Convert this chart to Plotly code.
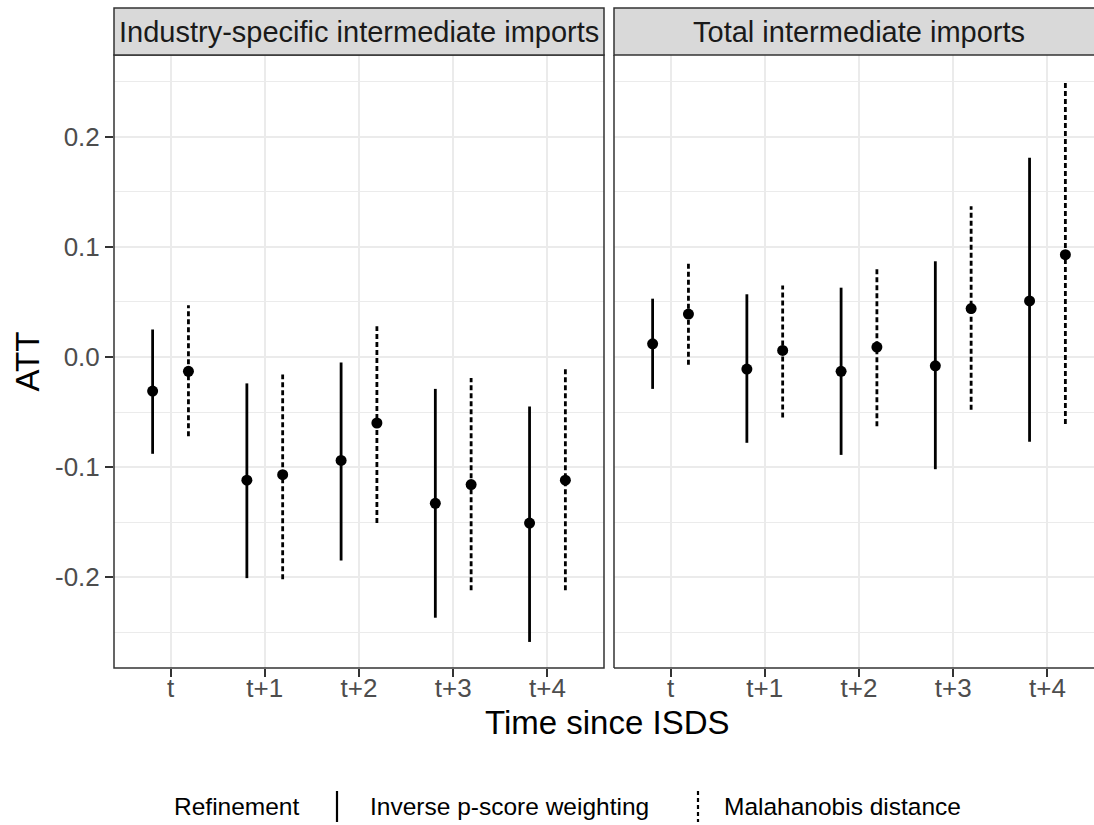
import plotly.graph_objects as go

# ---------------- data ----------------
periods = ["t", "t+1", "t+2", "t+3", "t+4"]
positions = [1, 2, 3, 4, 5]
panel_titles = ["Industry-specific intermediate imports", "Total intermediate imports"]
methods = ["Inverse p-score weighting", "Malahanobis distance"]

# Industry-specific intermediate imports
ind_ipw_est = [-0.031, -0.112, -0.094, -0.133, -0.151]
ind_ipw_lo = [-0.088, -0.201, -0.185, -0.237, -0.259]
ind_ipw_hi = [0.025, -0.024, -0.005, -0.029, -0.045]
ind_mah_est = [-0.013, -0.107, -0.060, -0.116, -0.112]
ind_mah_lo = [-0.072, -0.202, -0.151, -0.212, -0.212]
ind_mah_hi = [0.047, -0.016, 0.028, -0.019, -0.010]

# Total intermediate imports
tot_ipw_est = [0.012, -0.011, -0.013, -0.008, 0.051]
tot_ipw_lo = [-0.029, -0.078, -0.089, -0.102, -0.077]
tot_ipw_hi = [0.053, 0.057, 0.063, 0.087, 0.181]
tot_mah_est = [0.039, 0.006, 0.009, 0.044, 0.093]
tot_mah_lo = [-0.007, -0.055, -0.063, -0.048, -0.061]
tot_mah_hi = [0.085, 0.065, 0.082, 0.137, 0.249]

y_tickvals = [-0.2, -0.1, 0.0, 0.1, 0.2]
y_ticktext = ["-0.2", "-0.1", "0.0", "0.1", "0.2"]

# ---------------- layout geometry ----------------
W, H = 1094, 825
L, T, B, R = 114, 55, 157, 0
PW = W - L - R
PH = H - T - B
FONT = "Liberation Sans, Arial, sans-serif"

def px_x(p):
    return (p - L) / PW

def px_y(p):
    return (H - B - p) / PH

dodge = 0.19
method_offsets = [-dodge, dodge]
method_dash = ["solid", "5px,3px"]

panels = [
    ("x", "y", [(ind_ipw_est, ind_ipw_lo, ind_ipw_hi), (ind_mah_est, ind_mah_lo, ind_mah_hi)]),
    ("x2", "y2", [(tot_ipw_est, tot_ipw_lo, tot_ipw_hi), (tot_mah_est, tot_mah_lo, tot_mah_hi)]),
]

fig = go.Figure()
for xa, ya, series in panels:
    for (est, lo, hi), off, dash, name in zip(series, method_offsets, method_dash, methods):
        xs = [p + off for p in positions]
        seg_x, seg_y = [], []
        for xv, l, h in zip(xs, lo, hi):
            seg_x += [xv, xv, None]
            seg_y += [l, h, None]
        fig.add_trace(go.Scatter(x=seg_x, y=seg_y, mode="lines", xaxis=xa, yaxis=ya,
                                 line=dict(color="black", width=2.8, dash=dash),
                                 name=name, showlegend=False, hoverinfo="skip"))
        fig.add_trace(go.Scatter(x=xs, y=est, mode="markers", xaxis=xa, yaxis=ya,
                                 marker=dict(color="black", size=11),
                                 name=name, showlegend=False))

left_w = 490
gap = 10
unit_px = left_w / 5.2
x2_range_end = 0.4 + (PW - left_w - gap) / unit_px

axis_common = dict(
    tickmode="array", tickvals=positions, ticktext=periods,
    showgrid=True, gridcolor="#EBEBEB", gridwidth=2,
    zeroline=False, showline=False,
    ticks="outside", ticklen=8, tickwidth=1.5, tickcolor="#333333",
    ticklabelstandoff=-11,
    tickfont=dict(family=FONT, size=26, color="#4D4D4D"),
)

yaxis_common = dict(
    range=[-0.2827, 0.2745],
    tickmode="array", tickvals=y_tickvals, ticktext=y_ticktext,
    showgrid=True, gridcolor="#EBEBEB", gridwidth=2,
    minor=dict(dtick=0.05, tick0=0.05, showgrid=True, gridcolor="#EBEBEB", gridwidth=1, ticks=""),
    zeroline=False, showline=False,
    domain=[0, 1],
)

fig.update_layout(
    width=W, height=H,
    margin=dict(l=L, r=R, t=T, b=B, pad=0),
    paper_bgcolor="white", plot_bgcolor="white",
    showlegend=False,
    xaxis=dict(domain=[0, left_w / PW], range=[0.4, 5.6], anchor="y", **axis_common),
    xaxis2=dict(domain=[(left_w + gap) / PW, 1], range=[0.4, x2_range_end], anchor="y2", **axis_common),
    yaxis=dict(anchor="x", ticks="outside", ticklen=8, tickwidth=1.5, tickcolor="#333333",
               tickfont=dict(family=FONT, size=26, color="#4D4D4D"), **yaxis_common),
    yaxis2=dict(anchor="x2", matches="y", showticklabels=False, ticks="", **yaxis_common),
)

border = dict(color="#333333", width=1.5)
strip_h = (T - 8) / PH
zero_dash = "3px,5px,11px,5px"
shapes = [
    # zero reference lines
    dict(type="line", xref="x domain", yref="y", x0=0, x1=1, y0=0, y1=0,
         line=dict(color="#808080", width=2, dash=zero_dash), layer="below"),
    dict(type="line", xref="x2 domain", yref="y2", x0=0, x1=1, y0=0, y1=0,
         line=dict(color="#808080", width=2, dash=zero_dash), layer="below"),
    # left panel border
    dict(type="rect", xref="x domain", yref="y domain", x0=0, x1=1, y0=0, y1=1,
         line=border, fillcolor="rgba(0,0,0,0)"),
    # right panel border (right edge is cut off by the picture)
    dict(type="line", xref="x2 domain", yref="y2 domain", x0=0, x1=0, y0=0, y1=1, line=border),
    dict(type="line", xref="x2 domain", yref="y2 domain", x0=0, x1=1.05, y0=0, y1=0, line=border),
    # strips
    dict(type="rect", xref="x domain", yref="y domain", x0=0, x1=1, y0=1, y1=1 + strip_h,
         line=border, fillcolor="#D9D9D9"),
    dict(type="rect", xref="x2 domain", yref="y2 domain", x0=0, x1=1.05, y0=1, y1=1 + strip_h,
         line=border, fillcolor="#D9D9D9"),
    # legend keys
    dict(type="line", xref="paper", yref="paper", x0=px_x(337), x1=px_x(337),
         y0=px_y(791), y1=px_y(822), line=dict(color="black", width=2.2)),
    dict(type="line", xref="paper", yref="paper", x0=px_x(698), x1=px_x(698),
         y0=px_y(791), y1=px_y(822), line=dict(color="black", width=2.2, dash="4px,3px")),
]
fig.update_layout(shapes=shapes)

LEG = 24.5
annotations = [
    dict(text=panel_titles[0], xref="x", yref="y domain", x=3, y=1 + strip_h / 2,
         showarrow=False, xanchor="center", yanchor="middle",
         font=dict(family=FONT, size=29, color="#1A1A1A")),
    dict(text=panel_titles[1], xref="x2", yref="y2 domain", x=3, y=1 + strip_h / 2,
         showarrow=False, xanchor="center", yanchor="middle",
         font=dict(family=FONT, size=29, color="#1A1A1A")),
    dict(text="Time since ISDS", xref="paper", yref="paper", x=px_x(607), y=px_y(722),
         showarrow=False, xanchor="center", yanchor="middle",
         font=dict(family=FONT, size=33, color="black")),
    dict(text="ATT", xref="paper", yref="paper", x=px_x(27), y=0.5, textangle=-90,
         showarrow=False, xanchor="center", yanchor="middle",
         font=dict(family=FONT, size=33, color="black")),
    dict(text="Refinement", xref="paper", yref="paper", x=px_x(172), y=px_y(806),
         showarrow=False, xanchor="left", yanchor="middle",
         font=dict(family=FONT, size=LEG, color="black")),
    dict(text=methods[0], xref="paper", yref="paper", x=px_x(368), y=px_y(806),
         showarrow=False, xanchor="left", yanchor="middle",
         font=dict(family=FONT, size=LEG, color="black")),
    dict(text=methods[1], xref="paper", yref="paper", x=px_x(722), y=px_y(806),
         showarrow=False, xanchor="left", yanchor="middle",
         font=dict(family=FONT, size=LEG, color="black")),
]
fig.update_layout(annotations=annotations)

fig.write_html("out.html", config={"displayModeBar": False},
               post_script="document.body.style.margin='0';document.body.style.padding='0';")
